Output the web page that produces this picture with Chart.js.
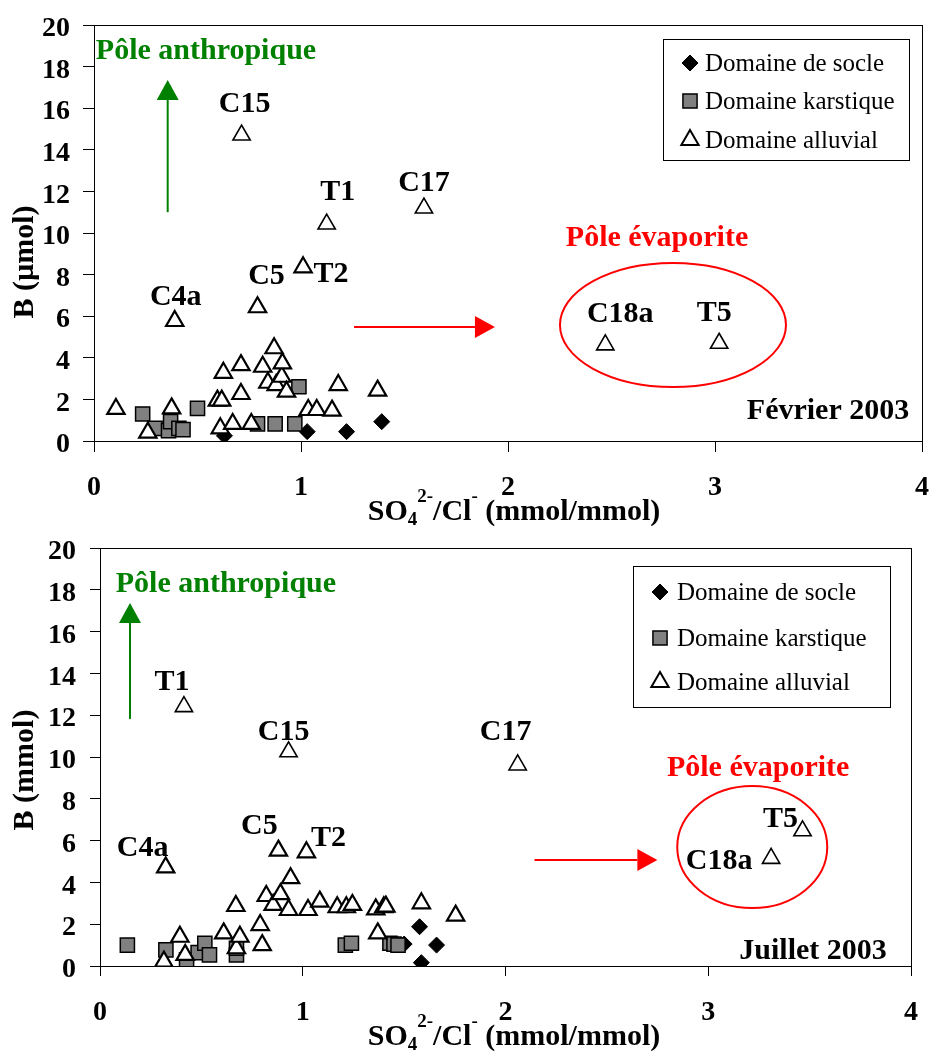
<!DOCTYPE html>
<html>
<head>
<meta charset="utf-8">
<script src="https://cdn.jsdelivr.net/npm/chart.js@4.4.0/dist/chart.umd.min.js"></script>
<style>
  html, body { margin: 0; padding: 0; background: #fff; }
  #wrap { position: relative; width: 929px; height: 1057px; }
  canvas { position: absolute; left: 0; }
  #febChart { top: 0; }
  #julChart { top: 528px; }
</style>
</head>
<body>
<div id="wrap">
  <canvas id="febChart" width="929" height="528"></canvas>
  <canvas id="julChart" width="929" height="529"></canvas>
</div>
<script>
const SERIF = "'Liberation Serif', 'Times New Roman', serif";

// Series names (legend)
const seriesNames = ['Domaine de socle', 'Domaine karstique', 'Domaine alluvial'];

// Février 2003 - domaine de socle
const febSocleX = [0.63, 1.03, 1.22, 1.39];
const febSocleY = [0.25, 0.45, 0.45, 0.93];
// Février 2003 - domaine karstique
const febKarstX = [0.235, 0.295, 0.36, 0.37, 0.41, 0.43, 0.50, 0.79, 0.875, 0.97, 0.99];
const febKarstY = [1.30, 0.61, 0.50, 0.93, 0.61, 0.55, 1.57, 0.82, 0.82, 0.82, 2.61];
// Février 2003 - domaine alluvial
const febAlluvialX = [0.106, 0.26, 0.375, 0.39, 0.596, 0.61, 0.617, 0.625, 0.67, 0.71, 0.71, 0.713, 0.76, 0.79, 0.815, 0.84,
  0.87, 0.88, 0.907, 0.91, 0.93, 1.01, 1.035, 1.076, 1.124, 1.15, 1.18, 1.37, 1.594, 2.47, 3.02];
const febAlluvialY = [1.54, 0.40, 1.57, 5.77, 1.94, 0.61, 1.94, 3.28, 0.82, 3.65, 2.26, 14.71, 0.82, 6.43, 3.57, 2.80,
  4.46, 2.69, 3.09, 3.73, 2.37, 8.35, 1.49, 1.49, 10.43, 1.46, 2.69, 2.42, 11.2, 4.62, 4.70];
const febAlluvialNames = ['', '', '', 'C4a', '', '', '', '', '', '', '', 'C15', '', 'C5', '', '',
  '', '', '', '', '', 'T2', '', '', 'T1', '', '', '', 'C17', 'C18a', 'T5'];

// Juillet 2003 - domaine de socle
const julSocleX = [1.50, 1.576, 1.585, 1.66];
const julSocleY = [1.05, 1.88, 0.16, 1.0];
// Juillet 2003 - domaine karstique
const julKarstX = [0.135, 0.325, 0.427, 0.484, 0.517, 0.54, 0.673, 0.673, 1.21, 1.24, 1.43, 1.45, 1.47];
const julKarstY = [1.0, 0.77, 0.29, 0.64, 1.09, 0.53, 0.53, 0.85, 1.0, 1.09, 1.09, 1.05, 1.0];
// Juillet 2003 - domaine alluvial
const julAlluvialX = [0.315, 0.324, 0.394, 0.414, 0.42, 0.61, 0.67, 0.673, 0.69, 0.79, 0.80, 0.82, 0.854, 0.88, 0.89, 0.93,
  0.93, 0.94, 1.018, 1.026, 1.084, 1.17, 1.215, 1.245, 1.36, 1.37, 1.40, 1.41, 1.585, 1.754, 2.06, 3.31, 3.465];
const julAlluvialY = [0.21, 4.72, 1.40, 12.41, 0.53, 1.56, 2.87, 0.85, 1.40, 1.96, 1.0, 3.35, 2.92, 5.52, 3.44, 2.68,
  10.25, 4.2, 5.44, 2.68, 3.08, 2.81, 2.81, 2.92, 2.71, 1.56, 2.81, 2.84, 3.0, 2.41, 9.62, 5.15, 6.47];
const julAlluvialNames = ['', 'C4a', '', 'T1', '', '', '', '', '', '', '', '', '', 'C5', '', '',
  'C15', '', 'T2', '', '', '', '', '', '', '', '', '', '', '', 'C17', 'C18a', 'T5'];

const xAxisTitle = ['SO', '4', '2-', '/Cl', '-', ' (mmol/mmol)'];

// Draws a filled-head arrow between two pixel points
function drawArrow(ctx, x1, y1, x2, y2, color) {
  const ang = Math.atan2(y2 - y1, x2 - x1);
  const len = 20, half = 11;
  ctx.strokeStyle = color;
  ctx.fillStyle = color;
  ctx.lineWidth = 2;
  ctx.beginPath();
  ctx.moveTo(x1, y1);
  ctx.lineTo(x2 - Math.cos(ang) * len, y2 - Math.sin(ang) * len);
  ctx.stroke();
  ctx.beginPath();
  ctx.moveTo(x2, y2);
  ctx.lineTo(x2 - Math.cos(ang) * len - Math.sin(ang) * half, y2 - Math.sin(ang) * len + Math.cos(ang) * half);
  ctx.lineTo(x2 - Math.cos(ang) * len + Math.sin(ang) * half, y2 - Math.sin(ang) * len - Math.cos(ang) * half);
  ctx.closePath();
  ctx.fill();
}

// x axis title with subscript / superscripts
function drawXTitle(ctx, cx, baseline) {
  const big = 'bold 30px ' + SERIF, small = 'bold 19px ' + SERIF;
  const parts = [
    { t: xAxisTitle[0], f: big, dy: 0 },
    { t: xAxisTitle[1], f: small, dy: 5 },
    { t: xAxisTitle[2], f: small, dy: -18 },
    { t: xAxisTitle[3], f: big, dy: 0 },
    { t: xAxisTitle[4], f: small, dy: -18 },
    { t: xAxisTitle[5], f: big, dy: 0 }
  ];
  let total = 0;
  parts.forEach(p => { ctx.font = p.f; p.w = ctx.measureText(p.t).width; total += p.w; });
  let x = cx - total / 2;
  ctx.fillStyle = '#000';
  ctx.textAlign = 'left';
  ctx.textBaseline = 'alphabetic';
  parts.forEach(p => { ctx.font = p.f; ctx.fillText(p.t, x, baseline + p.dy); x += p.w; });
}

const overlayPlugin = {
  id: 'overlay',
  afterDraw(chart, args, o) {
    const { ctx, chartArea: a } = chart;
    const xs = chart.scales.x, ys = chart.scales.y;
    const px = v => xs.getPixelForValue(v), py = v => ys.getPixelForValue(v);
    ctx.save();

    // plot frame
    ctx.strokeStyle = '#000';
    ctx.lineWidth = 1;
    ctx.strokeRect(a.left + 0.5, a.top + 0.5, a.right - a.left, a.bottom - a.top);

    // point labels
    ctx.fillStyle = '#000';
    ctx.font = 'bold 30px ' + SERIF;
    ctx.textAlign = 'center';
    ctx.textBaseline = 'middle';
    o.names.forEach((n, i) => {
      if (!n) return;
      const off = o.labelOffsets[n];
      ctx.fillText(n, px(o.labelX[i]) + off[0], py(o.labelY[i]) + off[1]);
    });

    // Pôle anthropique
    ctx.fillStyle = '#008000';
    ctx.fillText('Pôle anthropique', px(o.anthro.text[0]), py(o.anthro.text[1]));
    drawArrow(ctx, px(o.anthro.arrow[0]), py(o.anthro.arrow[1]), px(o.anthro.arrow[0]), py(o.anthro.arrow[2]), '#008000');

    // Pôle évaporite
    ctx.fillStyle = '#ff0000';
    ctx.fillText('Pôle évaporite', px(o.evap.text[0]), py(o.evap.text[1]));
    drawArrow(ctx, px(o.evap.arrow[0]), py(o.evap.arrow[2]), px(o.evap.arrow[1]), py(o.evap.arrow[2]), '#ff0000');
    ctx.strokeStyle = '#ff0000';
    ctx.lineWidth = 2;
    ctx.beginPath();
    ctx.ellipse(px(o.evap.ellipse[0]), py(o.evap.ellipse[1]), o.evap.ellipse[2], o.evap.ellipse[3], 0, 0, Math.PI * 2);
    ctx.stroke();

    // date label
    ctx.fillStyle = '#000';
    ctx.fillText(o.date, px(o.datePos[0]), py(o.datePos[1]));

    // y axis title
    ctx.save();
    ctx.translate(o.yTitle[0], o.yTitle[1]);
    ctx.rotate(-Math.PI / 2);
    ctx.font = 'bold 30px ' + SERIF;
    ctx.fillText(o.yTitleText, 0, 0);
    ctx.restore();

    // x axis title
    drawXTitle(ctx, o.xTitle[0], o.xTitle[1]);

    // legend box
    const L = o.legend;
    ctx.fillStyle = '#fff';
    ctx.fillRect(L.box[0], L.box[1], L.box[2] - L.box[0], L.box[3] - L.box[1]);
    ctx.strokeStyle = '#000';
    ctx.lineWidth = 1;
    ctx.strokeRect(L.box[0] + 0.5, L.box[1] + 0.5, L.box[2] - L.box[0], L.box[3] - L.box[1]);
    chart.data.datasets.forEach((ds, row) => {
      ctx.fillStyle = ds.pointBackgroundColor;
      ctx.strokeStyle = ds.pointBorderColor;
      ctx.lineWidth = ds.legendBorder;
      Chart.helpers.drawPoint(ctx, { pointStyle: ds.pointStyle, radius: ds.legendRadius, rotation: 0, borderWidth: ds.legendBorder },
        L.markerX, L.rows[row]);
      ctx.fillStyle = '#000';
      ctx.font = '25px ' + SERIF;
      ctx.textAlign = 'left';
      ctx.textBaseline = 'middle';
      ctx.fillText(ds.label, L.textX, L.rows[row] + 1);
    });

    ctx.restore();
  }
};

function makeChart(c) {
  const el = document.getElementById(c.canvasId);
  const W = el.width, H = el.height;
  const toPts = (xs, ys) => xs.map((x, i) => ({ x, y: ys[i] }));
  const tickFont = { family: SERIF, size: 28, weight: 'bold' };

  return new Chart(el, {
    type: 'scatter',
    data: {
      datasets: [
        {
          label: seriesNames[0], data: toPts(c.socleX, c.socleY),
          pointStyle: 'rectRot', pointRadius: 8, pointBackgroundColor: '#000', pointBorderColor: '#000',
          pointBorderWidth: 1, legendRadius: 8, legendBorder: 1, order: 2
        },
        {
          label: seriesNames[1], data: toPts(c.karstX, c.karstY),
          pointStyle: 'rect', pointRadius: 10, pointBackgroundColor: '#808080', pointBorderColor: '#000',
          pointBorderWidth: 1.5, legendRadius: 10, legendBorder: 1.5, order: 1
        },
        {
          label: seriesNames[2], data: toPts(c.alluvialX, c.alluvialY),
          pointStyle: 'triangle', pointRadius: 10, pointBackgroundColor: '#fff', pointBorderColor: '#000',
          pointBorderWidth: p => (p.raw && (p.raw.x > 2 || p.raw.y > 9)) ? 1.6 : 2.2,
          legendRadius: 10, legendBorder: 2, order: 0
        }
      ]
    },
    options: {
      responsive: false,
      animation: false,
      events: [],
      layout: { autoPadding: false, padding: { top: c.area.top, right: W - c.area.right, left: 0, bottom: 0 } },
      plugins: {
        legend: { display: false },
        tooltip: { enabled: false },
        overlay: c.overlay
      },
      scales: {
        x: {
          type: 'linear', min: 0, max: 4,
          afterFit: s => { s.height = H - c.area.bottom; s.paddingLeft = 0; s.paddingRight = 0; },
          ticks: { stepSize: 1, color: '#000', font: tickFont, padding: c.xTickPad, maxRotation: 0 },
          grid: { drawOnChartArea: false, tickLength: c.xTickLen, color: '#000' },
          border: { color: '#000', width: 1 }
        },
        y: {
          min: 0, max: 20,
          afterFit: s => { s.width = c.area.left; s.paddingTop = 0; s.paddingBottom = 0; },
          ticks: { stepSize: 2, color: '#000', font: tickFont, padding: c.yTickPad, labelOffset: 4 },
          grid: { drawOnChartArea: false, tickLength: c.yTickLen, color: '#000' },
          border: { color: '#000', width: 1 }
        }
      }
    },
    plugins: [overlayPlugin]
  });
}

makeChart({
  canvasId: 'febChart',
  area: { left: 94, right: 922, top: 25, bottom: 441 },
  xTickLen: 11, xTickPad: 19, yTickLen: 11, yTickPad: 13,
  socleX: febSocleX, socleY: febSocleY,
  karstX: febKarstX, karstY: febKarstY,
  alluvialX: febAlluvialX, alluvialY: febAlluvialY,
  overlay: {
    names: febAlluvialNames, labelX: febAlluvialX, labelY: febAlluvialY,
    labelOffsets: { C15: [3, -31], T1: [11, -32], C17: [0, -25], C5: [9, -31], T2: [28, 7], C4a: [1, -24], C18a: [15, -31], T5: [-5, -30] },
    anthro: { text: [0.541, 18.75], arrow: [0.356, 11.0, 17.36] },
    evap: { text: [2.72, 9.76], arrow: [1.256, 1.937, 5.48], ellipse: [2.797, 5.58, 113, 62] },
    date: 'Février 2003', datePos: [3.546, 1.44],
    yTitleText: 'B (µmol)', yTitle: [25, 262],
    xTitle: [514, 520],
    legend: { box: [663, 39, 909, 160], rows: [63, 101, 140], markerX: 690, textX: 705 }
  }
});

makeChart({
  canvasId: 'julChart',
  area: { left: 100, right: 911, top: 20, bottom: 438 },
  xTickLen: 10, xTickPad: 20, yTickLen: 10, yTickPad: 14,
  socleX: julSocleX, socleY: julSocleY,
  karstX: julKarstX, karstY: julKarstY,
  alluvialX: julAlluvialX, alluvialY: julAlluvialY,
  overlay: {
    names: julAlluvialNames, labelX: julAlluvialX, labelY: julAlluvialY,
    labelOffsets: { T1: [-12, -24], C15: [-5, -20], C17: [-12, -33], C5: [-19, -24], T2: [22, -14], C4a: [-23, -19], T5: [-22, -12], C18a: [-52, 3] },
    anthro: { text: [0.621, 18.28], arrow: [0.148, 11.82, 17.37] },
    evap: { text: [3.246, 9.47], arrow: [2.143, 2.749, 5.07], ellipse: [3.217, 5.69, 75, 61] },
    date: 'Juillet 2003', datePos: [3.517, 0.72],
    yTitleText: 'B (mmol)', yTitle: [25, 242],
    xTitle: [514, 517],
    legend: { box: [633, 38, 890, 179], rows: [64, 110, 154], markerX: 660, textX: 677 }
  }
});
</script>
</body>
</html>
